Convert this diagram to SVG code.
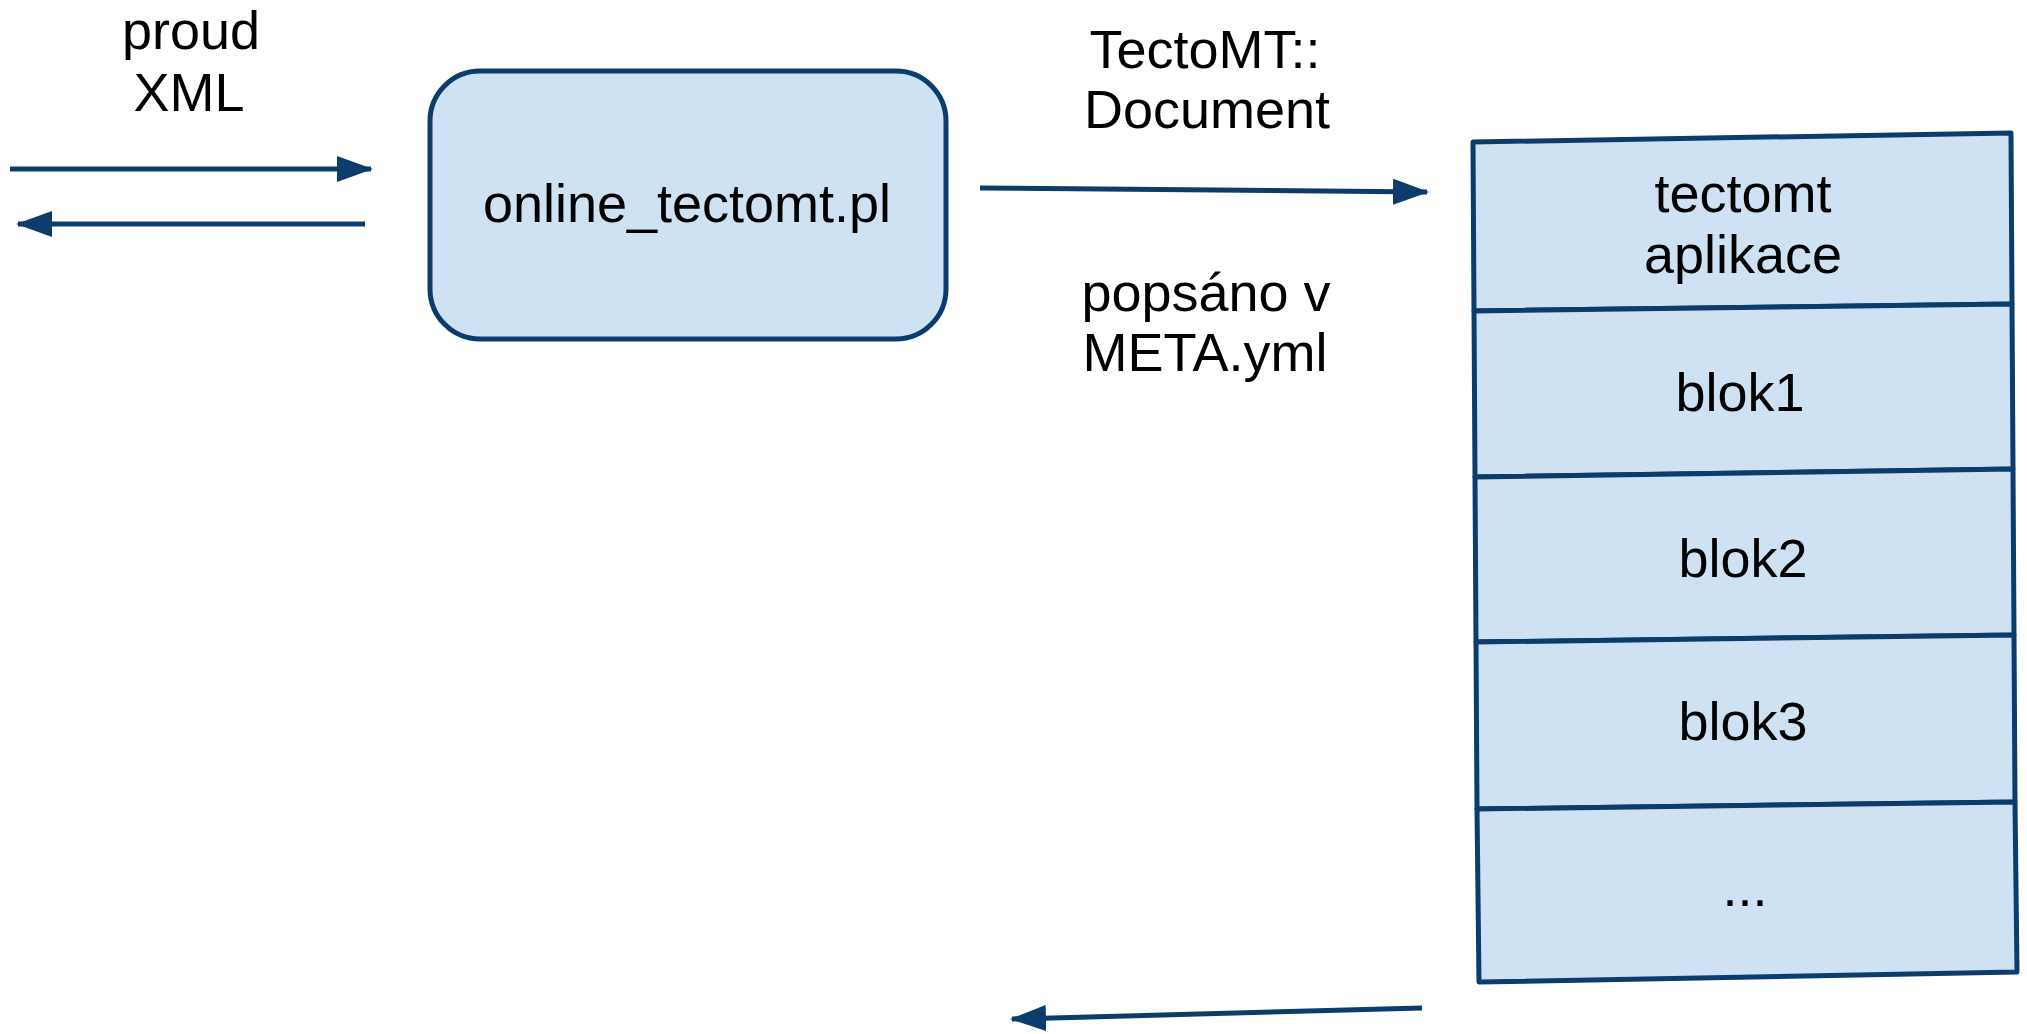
<svg xmlns="http://www.w3.org/2000/svg" width="2027" height="1034" viewBox="0 0 2027 1034">
<style>
.bg{fill:#ffffff}
.box{fill:#cfe2f3;stroke:#0b3c6b;stroke-width:5;stroke-linejoin:round}
.t{font-family:"Liberation Sans",Arial,sans-serif;font-size:54px;fill:#000;text-anchor:middle}
.c{fill:none;stroke:#0b3c6b;stroke-width:5;marker-end:url(#ah)}
</style>
<defs>
<marker id="ah" viewBox="0 0 36 26" refX="34" refY="13" markerWidth="36" markerHeight="26" markerUnits="userSpaceOnUse" orient="auto">
<path d="M0,0 L36,13 L0,26 z" fill="#0b3c6b"/>
</marker>
</defs>
<rect class="bg" x="0" y="0" width="2027" height="1034"/>
<g id="label-proud">
<text class="t" x="191" y="49">proud</text>
<text class="t" x="189" y="111">XML</text>
</g>
<g id="node-online">
<rect class="box" x="430" y="71" width="516" height="268" rx="50" ry="50"/>
<text class="t" x="687" y="222">online_tectomt.pl</text>
</g>
<g id="label-document">
<text class="t" x="1205" y="68">TectoMT::</text>
<text class="t" x="1207" y="128">Document</text>
</g>
<g id="label-meta">
<text class="t" x="1206" y="311">popsáno v</text>
<text class="t" x="1205" y="371">META.yml</text>
</g>
<g id="node-app">
<polygon class="box" points="1473,142 2011,133 2012,304 1474,311"/>
<text class="t" x="1743" y="212">tectomt</text>
<text class="t" x="1743" y="273">aplikace</text>
</g>
<g id="node-blok1">
<polygon class="box" points="1474,311 2012,304 2013,469 1475,477"/>
<text class="t" x="1740" y="411">blok1</text>
</g>
<g id="node-blok2">
<polygon class="box" points="1475,477 2013,469 2014,635 1476,642"/>
<text class="t" x="1743" y="577">blok2</text>
</g>
<g id="node-blok3">
<polygon class="box" points="1476,642 2014,635 2015,802 1477,809"/>
<text class="t" x="1743" y="740">blok3</text>
</g>
<g id="node-more">
<polygon class="box" points="1477,809 2015,802 2017,972 1479,982"/>
<text class="t" x="1745" y="906">...</text>
</g>
<g id="connectors">
<path class="c" d="M10,169 L371,169"/>
<path class="c" d="M365,224 L18,224"/>
<path class="c" d="M980,188 L1427,192"/>
<path class="c" d="M1422,1008 L1012,1019"/>
</g>
</svg>
